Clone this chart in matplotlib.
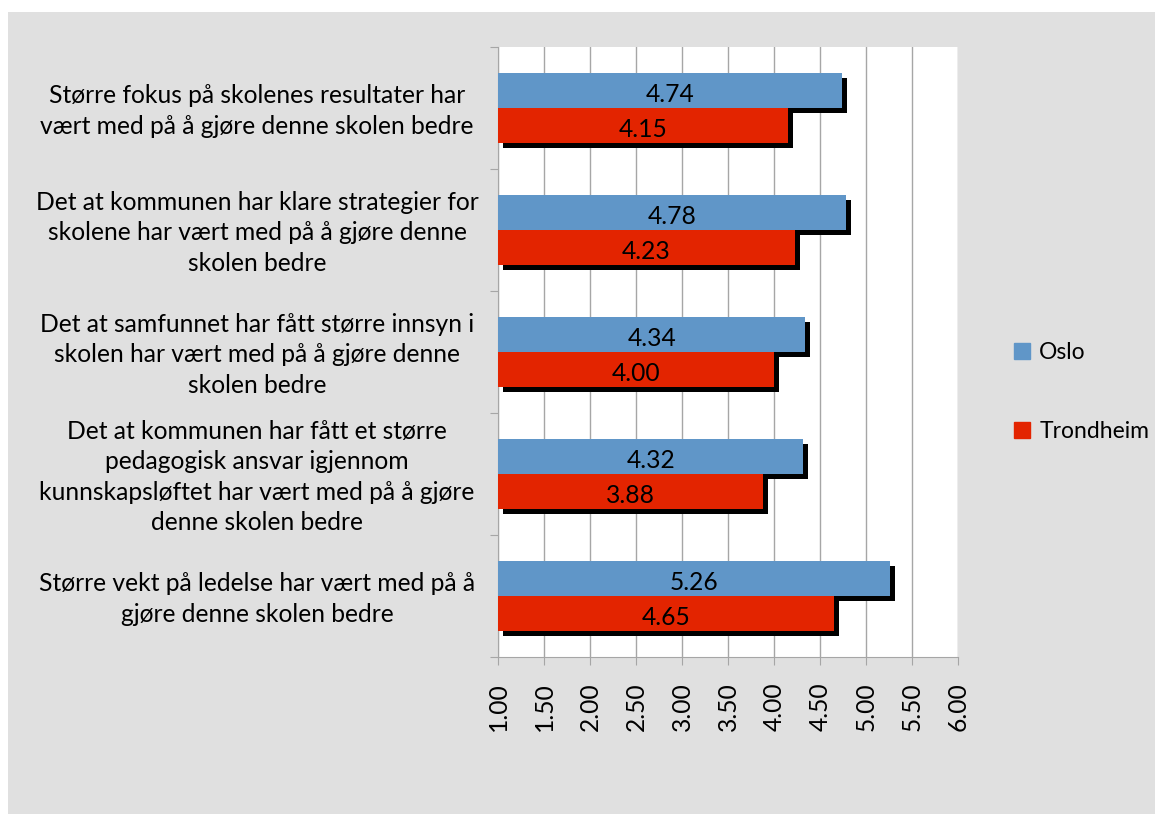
import matplotlib
matplotlib.use("Agg")
import matplotlib.pyplot as plt
import matplotlib.patheffects as pe
from matplotlib.patches import Rectangle
import numpy as np

plt.rcParams['font.family'] = ['Lato', 'DejaVu Sans']

categories = [
    "Større fokus på skolenes resultater har\nvært med på å gjøre denne skolen bedre",
    "Det at kommunen har klare strategier for\nskolene har vært med på å gjøre denne\nskolen bedre",
    "Det at samfunnet har fått større innsyn i\nskolen har vært med på å gjøre denne\nskolen bedre",
    "Det at kommunen har fått et større\npedagogisk ansvar igjennom\nkunnskapsløftet har vært med på å gjøre\ndenne skolen bedre",
    "Større vekt på ledelse har vært med på å\ngjøre denne skolen bedre",
]
oslo = [4.74, 4.78, 4.34, 4.32, 5.26]
trondheim = [4.15, 4.23, 4.00, 3.88, 4.65]
series_names = ["Oslo", "Trondheim"]
x_ticks = [1.00, 1.50, 2.00, 2.50, 3.00, 3.50, 4.00, 4.50, 5.00, 5.50, 6.00]

BLUE = "#6096C8"
RED = "#E32400"
BG = "#E0E0E0"
GRID = "#A6A6A6"
FS = 17.7

W, H = 1155, 814
fig = plt.figure(figsize=(W / 100, H / 100), dpi=100)
fig.patch.set_facecolor("white")
fig.add_artist(Rectangle((8 / W, 0), 1, 1 - 12 / H, transform=fig.transFigure,
                         facecolor=BG, edgecolor="none", zorder=-10))

ax = fig.add_axes([498 / W, 1 - 657 / H, 460 / W, 610 / H])
ax.set_facecolor("white")

base = 1.0
y = np.arange(len(categories))
bh = 0.287
shadow = [pe.SimplePatchShadow(offset=(3.6, -3.6), shadow_rgbFace="black", alpha=1.0),
          pe.Normal()]

for i in range(len(categories)):
    for vals, col, dy in ((oslo, BLUE, -bh / 2), (trondheim, RED, bh / 2)):
        v = vals[i]
        b = ax.barh(y[i] + dy, v - base, left=base, height=bh, color=col,
                    edgecolor="none", zorder=3)
        b[0].set_path_effects(shadow)
        ax.annotate(f"{v:.2f}", xy=(base + (v - base) / 2, y[i] + dy),
                    xytext=(0, -4), textcoords="offset pixels", ha="center",
                    va="center", fontsize=FS, color="black", zorder=5)

ax.set_xlim(1, 6)
ax.set_ylim(len(categories) - 0.5, -0.5)
ax.set_xticks(x_ticks)
ax.set_xticklabels([f"{t:.2f}" for t in x_ticks], rotation=90, fontsize=FS)
ax.tick_params(axis="x", direction="out", length=6, color=GRID, pad=12)
ax.set_yticks(np.arange(-0.5, len(categories), 1.0))
ax.set_yticklabels([])
ax.tick_params(axis="y", direction="out", length=6, color=GRID)
ax.grid(axis="x", color=GRID, linewidth=1.0, zorder=0)
ax.set_axisbelow(True)
for s in ("top", "right"):
    ax.spines[s].set_visible(False)
for s in ("left", "bottom"):
    ax.spines[s].set_color(GRID)

for i, lab in enumerate(categories):
    ax.annotate(lab, xy=(0, y[i]), xycoords=("axes fraction", "data"),
                xytext=(-241, -3), textcoords="offset pixels", ha="center",
                va="center", multialignment="center", fontsize=FS,
                linespacing=1.38)

handles = [Rectangle((0, 0), 1, 1, color=BLUE), Rectangle((0, 0), 1, 1, color=RED)]
fig.legend(handles, series_names, loc="center left",
           bbox_to_anchor=(1014 / W, 1 - 392 / H), frameon=False, fontsize=16.5,
           borderpad=0, borderaxespad=0,
           handlelength=0.7, handleheight=0.7, handletextpad=0.4, labelspacing=2.55)

fig.savefig("out.png", dpi=100)
